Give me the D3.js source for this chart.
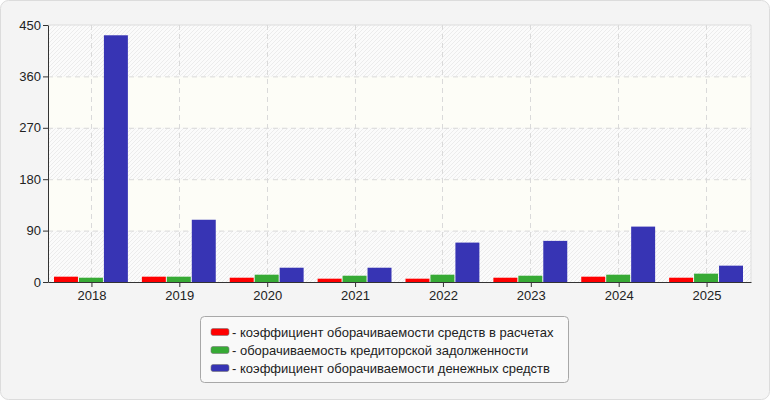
<!DOCTYPE html>
<html>
<head>
<meta charset="utf-8">
<script src="https://cdn.jsdelivr.net/npm/d3@7"></script>
<style>
  body { margin: 0; background: #fff; }
  text { font-family: "Liberation Sans", Arial, sans-serif; }
</style>
</head>
<body>
<script>
const years = ["2018", "2019", "2020", "2021", "2022", "2023", "2024", "2025"];
const receivables = [9.3, 9.3, 7.5, 5.8, 5.8, 7.5, 9.3, 7.5];
const payables = [7.5, 9.3, 12.8, 11, 12.8, 11, 12.8, 14.6];
const cash = [432, 109, 25, 25, 69, 72, 97, 28.6];
const yTicks = [0, 90, 180, 270, 360, 450];
const seriesNames = [
  "коэффициент оборачиваемости средств в расчетах",
  "оборачиваемость кредиторской задолженности",
  "коэффициент оборачиваемости денежных средств"
];
const colors = ["#ff0000", "#37aa35", "#3734b4"];

const w = 770, h = 400;
const plotL = 48, plotR = 751, plotT = 25, plotB = 282;

const svg = d3.select("body").append("svg")
  .attr("width", w).attr("height", h);

// hatch pattern
const pat = svg.append("defs").append("pattern")
  .attr("id", "hatch")
  .attr("patternUnits", "userSpaceOnUse")
  .attr("width", 4).attr("height", 4);
pat.append("rect").attr("width", 4).attr("height", 4).attr("fill", "#fbfbfb");
pat.append("path").attr("d", "M-1,1 l2,-2 M0,4 l4,-4 M3,5 l2,-2")
  .attr("stroke", "#ececec").attr("stroke-width", 1);

// outer frame
svg.append("rect")
  .attr("x", 0.5).attr("y", 0.5).attr("width", w - 1).attr("height", h - 1)
  .attr("rx", 8).attr("fill", "#f4f4f4").attr("stroke", "#dcdcdc");

const x0 = d3.scaleBand().domain(years).range([plotL, plotR]);
const x1 = d3.scaleBand().domain([0, 1, 2])
  .range([6, x0.bandwidth() - 8]).paddingInner(0.04);
const y = d3.scaleLinear().domain([0, 450]).range([plotB, plotT]);

// alternating bands
svg.selectAll("rect.band")
  .data(d3.pairs(yTicks))
  .enter().append("rect")
  .attr("class", "band")
  .attr("x", plotL).attr("width", plotR - plotL)
  .attr("y", d => y(d[1])).attr("height", d => y(d[0]) - y(d[1]))
  .attr("fill", (d, i) => i % 2 === 0 ? "url(#hatch)" : "#fdfdf7");

// plot border (top/right)
svg.append("path")
  .attr("d", `M${plotL},${plotT}H${plotR}V${plotB}`)
  .attr("fill", "none").attr("stroke", "#dddddd");

// grid
svg.selectAll("line.hgrid")
  .data(yTicks.slice(1, -1))
  .enter().append("line")
  .attr("x1", plotL).attr("x2", plotR)
  .attr("y1", d => y(d) + 0.5).attr("y2", d => y(d) + 0.5)
  .attr("stroke", "#dadada").attr("stroke-dasharray", "5,4");

svg.selectAll("line.vgrid")
  .data(years)
  .enter().append("line")
  .attr("x1", d => Math.round(x0(d) + x0.bandwidth() / 2) - 0.5)
  .attr("x2", d => Math.round(x0(d) + x0.bandwidth() / 2) - 0.5)
  .attr("y1", plotT).attr("y2", plotB)
  .attr("stroke", "#dadada").attr("stroke-dasharray", "5,4");

// bars
const series = [receivables, payables, cash];
const g = svg.selectAll("g.year")
  .data(years)
  .enter().append("g")
  .attr("transform", d => `translate(${x0(d)},0)`);

g.selectAll("rect")
  .data((d, i) => series.map((s, k) => ({ k: k, v: s[i] })))
  .enter().append("rect")
  .attr("x", d => x1(d.k))
  .attr("width", x1.bandwidth())
  .attr("y", d => y(d.v))
  .attr("height", d => y(0) - y(d.v))
  .attr("fill", d => colors[d.k]);

// axes
const yAxis = svg.append("g")
  .attr("transform", `translate(${plotL},0)`)
  .call(d3.axisLeft(y).tickValues(yTicks).tickSize(5).tickSizeOuter(0));
const xAxis = svg.append("g")
  .attr("transform", `translate(0,${plotB})`)
  .call(d3.axisBottom(x0).tickSize(5).tickSizeOuter(0));

[yAxis, xAxis].forEach(a => {
  a.select(".domain").attr("stroke", "#333");
  a.selectAll(".tick line").attr("stroke", "#333");
  a.selectAll(".tick text")
    .attr("fill", "#222")
    .style("font-size", "13px")
    .style("font-family", "'Liberation Sans', Arial, sans-serif");
});
yAxis.selectAll(".tick text").attr("x", -7);
xAxis.selectAll(".tick text").attr("y", 9);

// legend
const lg = svg.append("g");
lg.append("rect")
  .attr("x", 200.5).attr("y", 316.5).attr("width", 368).attr("height", 66)
  .attr("rx", 4).attr("fill", "#f9f9f9").attr("stroke", "#a8a8a8");

const item = lg.selectAll("g.item")
  .data(seriesNames)
  .enter().append("g")
  .attr("transform", (d, i) => `translate(211,${332 + i * 18})`);

item.append("rect")
  .attr("x", 0).attr("y", -3.5).attr("width", 18).attr("height", 7)
  .attr("rx", 2)
  .attr("fill", (d, i) => colors[i])
  .attr("stroke", "#777").attr("stroke-width", 0.6);

item.append("text")
  .attr("x", 21).attr("y", 4.5)
  .style("font-size", "13px")
  .attr("fill", "#222")
  .text(d => "- " + d);
</script>
</body>
</html>
